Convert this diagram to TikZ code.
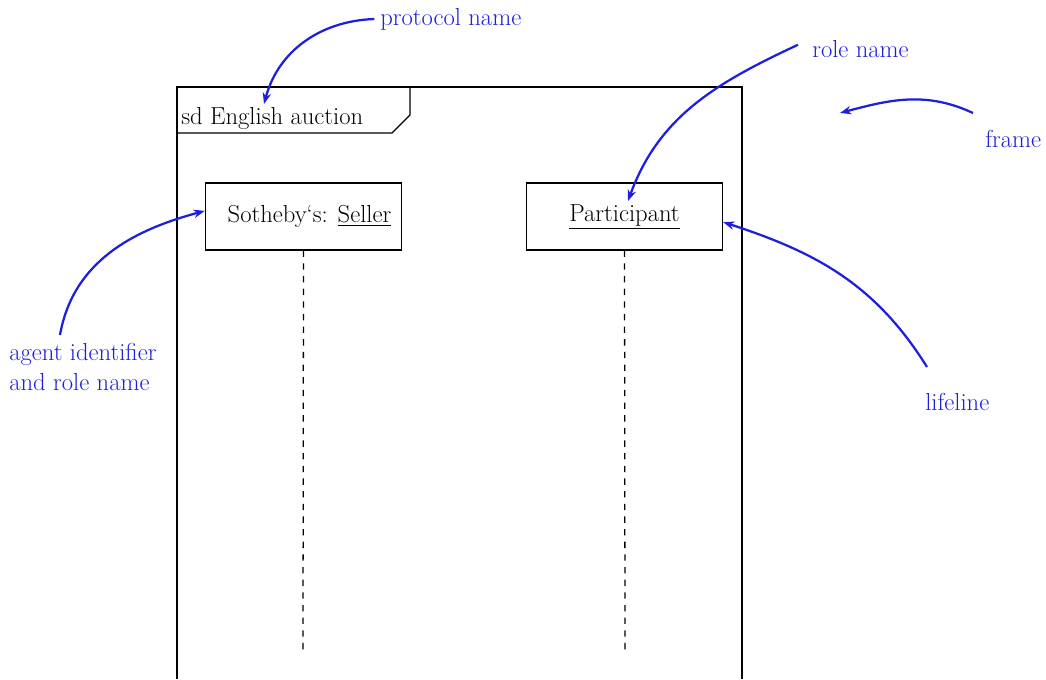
\documentclass[tikz,border=0pt]{standalone}
\usepackage{tikz}
\usetikzlibrary{positioning,arrows.meta}
\definecolor{noteblue}{RGB}{30,30,220}
\tikzset{
	lifebox/.style = {draw,line width=0.9pt,minimum width=4.9cm,minimum height=1.675cm,font=\fontsize{17.5}{21}\selectfont},
	lifeline/.style = {line width=0.9pt,dash pattern=on 4.5pt off 4.5pt},
	note/.style = {text=noteblue,inner sep=0pt,font=\fontsize{17.5}{21}\selectfont},
	notearrow/.style = {draw=noteblue,line width=1.6pt,-{Stealth[length=8pt,width=6pt]}}
}

\begin{document}
\begin{tikzpicture}[x=0.025cm,y=-0.025cm]
	\useasboundingbox (0,0) rectangle (1046,679);

	% frame with its tab
	\draw[line width=1.2pt] (177,679) -- (177,87) -- (742,87) -- (742,679);
	\draw[line width=0.9pt] (177,133) -- (392,133) -- (410,115) -- (410,87);
	\node[anchor=west,inner sep=0pt,font=\fontsize{17.5}{21}\selectfont] (tab) at (181,118) {sd English auction};

	% lifelines
	\node[lifebox] (seller) at (303.5,216.5) {\hspace{0.3cm}Sotheby`s: \underline{Seller}};
	\node[lifebox] (part) at (624.5,216.5) {\underline{Participant}};
	\draw[lifeline] (seller.south) -- (303,650);
	\draw[lifeline] (part.south) -- (625,650);

	% notes
	\node[note,anchor=west] (protolbl) at (380,19) {protocol name};
	\node[note,anchor=west] (rolelbl) at (812,49) {role name};
	\node[note,anchor=west] (framelbl) at (985,139) {frame};
	\node[note,anchor=north west,align=left] (agentlbl) at (9,343) {agent identifier\\and role name};
	\node[note,anchor=west] (lifelbl) at (925,402) {lifeline};

	\coordinate (protoend) at (264,104);
	\coordinate (roleend) at (628,201);
	\coordinate (framestart) at (973,113);
	\coordinate (frameend) at (840,113);
	\coordinate (agentstart) at (60,335);
	\coordinate (lifestart) at (927,367);

	\draw[notearrow] ([xshift=-4pt]protolbl.west) to[out=182,in=75] (protoend);
	\draw[notearrow] ([xshift=-10pt,yshift=3pt]rolelbl.west) to[out=205,in=70] (roleend);
	\draw[notearrow] (framestart) to[out=155,in=15] (frameend);
	\draw[notearrow] (agentstart) to[out=80,in=195] ([yshift=4pt]seller.west);
	\draw[notearrow] (lifestart) to[out=122,in=-18] ([yshift=-4pt]part.east);
\end{tikzpicture}
\end{document}
